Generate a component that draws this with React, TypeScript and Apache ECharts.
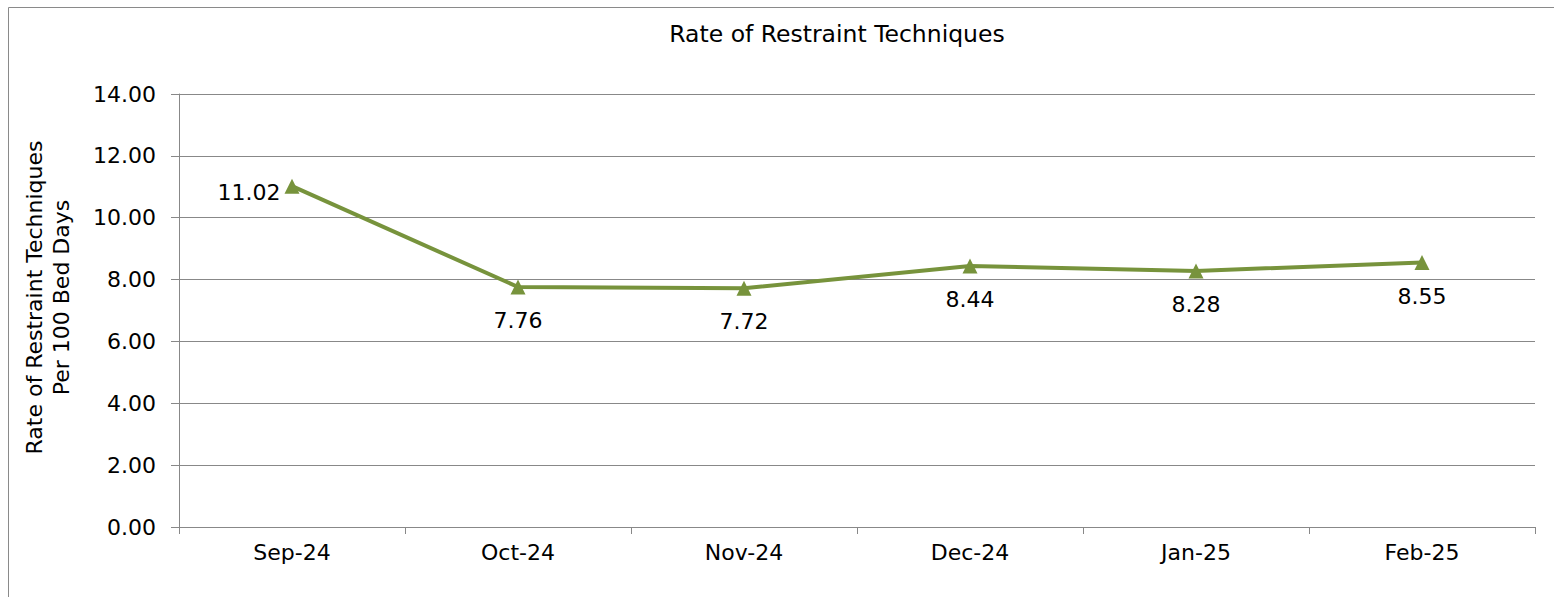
import React, { useEffect, useRef } from "react";
import * as echarts from "echarts";

const categories = ["Sep-24", "Oct-24", "Nov-24", "Dec-24", "Jan-25", "Feb-25"];
const values = [11.02, 7.76, 7.72, 8.44, 8.28, 8.55];
const titleText = "Rate of Restraint Techniques";
const yAxisName = "Rate of Restraint Techniques\nPer 100 Bed Days";

const FONT = "'DejaVu Sans', sans-serif";
const GRID_COLOR = "#888888";
const LINE_COLOR = "#77933C";
const FS = 22;

export default function App() {
  const ref = useRef<HTMLDivElement>(null);
  useEffect(() => {
    if (!ref.current) return;
    const chart = echarts.init(ref.current, undefined, { renderer: "svg" });
    chart.setOption({
      animation: false,
      backgroundColor: "#ffffff",
      textStyle: { fontFamily: FONT },
      title: {
        text: titleText,
        left: 832,
        top: 17,
        textAlign: "center",
        textStyle: { fontFamily: FONT, fontSize: 23.5, fontWeight: "normal", color: "#000" },
      },
      graphic: [
        {
          type: "rect",
          shape: { x: 8.5, y: 7.5, width: 1580, height: 620 },
          style: { fill: "none", stroke: "#8a8a8a", lineWidth: 1 },
          silent: true,
        },
      ],
      grid: { left: 179, right: 19, top: 94, bottom: 70, containLabel: false },
      xAxis: {
        type: "category",
        data: categories,
        boundaryGap: true,
        axisLine: { show: true, lineStyle: { color: GRID_COLOR, width: 1 } },
        axisTick: { show: true, length: 7, alignWithLabel: false, lineStyle: { color: GRID_COLOR } },
        axisLabel: { color: "#000", fontSize: FS, fontFamily: FONT, margin: 14 },
        splitLine: { show: false },
      },
      yAxis: {
        type: "value",
        min: 0,
        max: 14,
        interval: 2,
        name: yAxisName,
        nameLocation: "middle",
        nameGap: 104,
        nameRotate: 90,
        nameTextStyle: {
          color: "#000",
          fontSize: 22,
          fontFamily: FONT,
          lineHeight: 27,
          padding: [0, 0, 0, 26],
        },
        axisLine: { show: true, lineStyle: { color: GRID_COLOR, width: 1 } },
        axisTick: { show: true, length: 8, lineStyle: { color: GRID_COLOR } },
        axisLabel: {
          color: "#000",
          fontSize: FS,
          fontFamily: FONT,
          margin: 23,
          formatter: (v: number) => v.toFixed(2),
        },
        splitLine: { show: true, lineStyle: { color: GRID_COLOR, width: 1 } },
      },
      series: [
        {
          type: "line",
          data: values.map((v, i) => ({
            value: v,
            label:
              i === 0
                ? { position: "left", distance: 4, offset: [0, 6] }
                : { position: "bottom", distance: 15 },
          })),
          lineStyle: { color: LINE_COLOR, width: 4 },
          itemStyle: { color: LINE_COLOR },
          symbol: "triangle",
          symbolSize: 15,
          label: {
            show: true,
            color: "#000",
            fontSize: FS,
            fontFamily: FONT,
            formatter: (p: any) => Number(p.value).toFixed(2),
          },
        },
      ],
    });
    return () => chart.dispose();
  }, []);
  return (
    <div
      ref={ref}
      style={{ position: "fixed", left: 0, top: 0, width: 1554, height: 597 }}
    />
  );
}
